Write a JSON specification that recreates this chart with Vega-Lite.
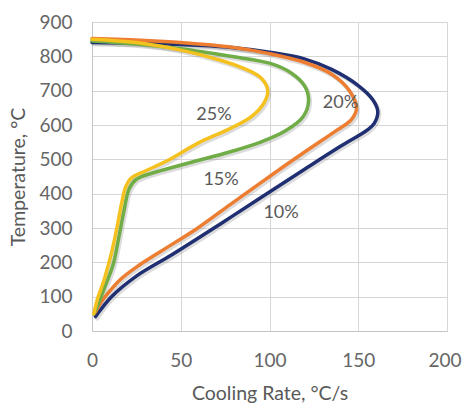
{
  "$schema": "https://vega.github.io/schema/vega-lite/v6.json",
  "width": 355,
  "height": 309,
  "autosize": {"type": "none"},
  "padding": {"left": 92, "top": 22, "right": 15, "bottom": 72},
  "background": "white",
  "config": {
    "view": {"stroke": null},
    "font": "Lato",
    "axis": {
      "labelFont": "Lato", "titleFont": "Lato",
      "labelFontSize": 19, "titleFontSize": 19.5,
      "labelColor": "#666666", "titleColor": "#595959",
      "titleFontWeight": "normal",
      "grid": true, "gridColor": "#d6d6d6", "gridWidth": 1,
      "domainColor": "#c4c4c4",
      "ticks": false, "labelFlush": false, "labelOverlap": false
    }
  },
  "datasets": {
    "curves": [
      {"s": "10%", "i": 0, "x": 0, "t": 840}, {"s": "10%", "i": 1, "x": 30, "t": 838}, {"s": "10%", "i": 2, "x": 60, "t": 832}, {"s": "10%", "i": 3, "x": 80, "t": 825}, {"s": "10%", "i": 4, "x": 100, "t": 812}, {"s": "10%", "i": 5, "x": 120, "t": 792}, {"s": "10%", "i": 6, "x": 135, "t": 762}, {"s": "10%", "i": 7, "x": 150, "t": 715}, {"s": "10%", "i": 8, "x": 158, "t": 675}, {"s": "10%", "i": 9, "x": 161, "t": 640}, {"s": "10%", "i": 10, "x": 159, "t": 605}, {"s": "10%", "i": 11, "x": 155, "t": 585}, {"s": "10%", "i": 12, "x": 140, "t": 538}, {"s": "10%", "i": 13, "x": 120, "t": 472}, {"s": "10%", "i": 14, "x": 95, "t": 388}, {"s": "10%", "i": 15, "x": 78, "t": 331}, {"s": "10%", "i": 16, "x": 67, "t": 294}, {"s": "10%", "i": 17, "x": 45, "t": 222}, {"s": "10%", "i": 18, "x": 25, "t": 160}, {"s": "10%", "i": 19, "x": 11, "t": 100}, {"s": "10%", "i": 20, "x": 4, "t": 56}, {"s": "10%", "i": 21, "x": 2, "t": 42},
      {"s": "20%", "i": 0, "x": 0, "t": 852}, {"s": "20%", "i": 1, "x": 30, "t": 846}, {"s": "20%", "i": 2, "x": 60, "t": 836}, {"s": "20%", "i": 3, "x": 80, "t": 826}, {"s": "20%", "i": 4, "x": 100, "t": 808}, {"s": "20%", "i": 5, "x": 120, "t": 782}, {"s": "20%", "i": 6, "x": 135, "t": 748}, {"s": "20%", "i": 7, "x": 145, "t": 700}, {"s": "20%", "i": 8, "x": 149, "t": 648}, {"s": "20%", "i": 9, "x": 146, "t": 615}, {"s": "20%", "i": 10, "x": 138, "t": 585}, {"s": "20%", "i": 11, "x": 120, "t": 522}, {"s": "20%", "i": 12, "x": 106, "t": 472}, {"s": "20%", "i": 13, "x": 93, "t": 424}, {"s": "20%", "i": 14, "x": 78, "t": 369}, {"s": "20%", "i": 15, "x": 59, "t": 298}, {"s": "20%", "i": 16, "x": 40, "t": 236}, {"s": "20%", "i": 17, "x": 25, "t": 186}, {"s": "20%", "i": 18, "x": 16, "t": 150}, {"s": "20%", "i": 19, "x": 9, "t": 110}, {"s": "20%", "i": 20, "x": 4, "t": 75}, {"s": "20%", "i": 21, "x": 2, "t": 55},
      {"s": "15%", "i": 0, "x": 0, "t": 845}, {"s": "15%", "i": 1, "x": 25, "t": 836}, {"s": "15%", "i": 2, "x": 50, "t": 822}, {"s": "15%", "i": 3, "x": 78, "t": 800}, {"s": "15%", "i": 4, "x": 100, "t": 780}, {"s": "15%", "i": 5, "x": 112, "t": 752}, {"s": "15%", "i": 6, "x": 120, "t": 712}, {"s": "15%", "i": 7, "x": 122, "t": 670}, {"s": "15%", "i": 8, "x": 119, "t": 625}, {"s": "15%", "i": 9, "x": 109, "t": 583}, {"s": "15%", "i": 10, "x": 95, "t": 550}, {"s": "15%", "i": 11, "x": 78, "t": 522}, {"s": "15%", "i": 12, "x": 55, "t": 490}, {"s": "15%", "i": 13, "x": 36, "t": 463}, {"s": "15%", "i": 14, "x": 25, "t": 442}, {"s": "15%", "i": 15, "x": 21, "t": 415}, {"s": "15%", "i": 16, "x": 18, "t": 350}, {"s": "15%", "i": 17, "x": 15, "t": 270}, {"s": "15%", "i": 18, "x": 12, "t": 195}, {"s": "15%", "i": 19, "x": 7, "t": 125}, {"s": "15%", "i": 20, "x": 3, "t": 72}, {"s": "15%", "i": 21, "x": 1, "t": 50},
      {"s": "25%", "i": 0, "x": 0, "t": 850}, {"s": "25%", "i": 1, "x": 25, "t": 840}, {"s": "25%", "i": 2, "x": 50, "t": 818}, {"s": "25%", "i": 3, "x": 70, "t": 792}, {"s": "25%", "i": 4, "x": 84, "t": 768}, {"s": "25%", "i": 5, "x": 95, "t": 738}, {"s": "25%", "i": 6, "x": 99, "t": 700}, {"s": "25%", "i": 7, "x": 97, "t": 665}, {"s": "25%", "i": 8, "x": 90, "t": 625}, {"s": "25%", "i": 9, "x": 78, "t": 590}, {"s": "25%", "i": 10, "x": 60, "t": 548}, {"s": "25%", "i": 11, "x": 42, "t": 495}, {"s": "25%", "i": 12, "x": 30, "t": 466}, {"s": "25%", "i": 13, "x": 22, "t": 445}, {"s": "25%", "i": 14, "x": 19, "t": 420}, {"s": "25%", "i": 15, "x": 17, "t": 380}, {"s": "25%", "i": 16, "x": 14, "t": 300}, {"s": "25%", "i": 17, "x": 11, "t": 228}, {"s": "25%", "i": 18, "x": 7, "t": 152}, {"s": "25%", "i": 19, "x": 3, "t": 92}, {"s": "25%", "i": 20, "x": 1, "t": 50}
    ],
    "labels": [
      {"s": "10%", "x": 106.5, "t": 344},
      {"s": "15%", "x": 72.7, "t": 440},
      {"s": "20%", "x": 140, "t": 664},
      {"s": "25%", "x": 68.7, "t": 629}
    ]
  },
  "encoding": {
    "x": {"field": "x", "type": "quantitative", "scale": {"domain": [0, 200]},
          "axis": {"title": "Cooling Rate, °C/s", "values": [0, 50, 100, 150, 200], "labelPadding": 20, "titlePadding": 14,
                   "labelAlign": {"expr": "datum.value == 200 ? 'right' : 'center'"},
                   "labelOffset": {"expr": "datum.value == 200 ? 14 : 0"}}},
    "y": {"field": "t", "type": "quantitative", "scale": {"domain": [0, 900]},
          "axis": {"title": "Temperature, °C", "values": [0, 100, 200, 300, 400, 500, 600, 700, 800, 900], "labelPadding": 20, "titlePadding": 10}}
  },
  "layer": [
    {
      "data": {"name": "curves"},
      "mark": {"type": "line", "strokeWidth": 4, "interpolate": "catmull-rom", "strokeCap": "round", "strokeJoin": "round", "color": "#8c8c8c", "opacity": 0.3, "xOffset": 1.5, "yOffset": 2},
      "encoding": {
        "detail": {"field": "s"},
        "order": {"field": "i", "type": "quantitative"}
      }
    },
    {
      "data": {"name": "curves"},
      "mark": {"type": "line", "strokeWidth": 3.5, "interpolate": "catmull-rom", "strokeCap": "round", "strokeJoin": "round"},
      "encoding": {
        "detail": {"field": "s"},
        "order": {"field": "i", "type": "quantitative"},
        "color": {"field": "s", "type": "nominal", "legend": null,
                  "scale": {"domain": ["10%", "20%", "15%", "25%"], "range": ["#1f2f72", "#ed7d31", "#70ad47", "#f5c11f"]}}
      }
    },
    {
      "data": {"name": "labels"},
      "mark": {"type": "text", "font": "Lato", "fontSize": 18, "color": "#595959"},
      "encoding": {
        "text": {"field": "s"}
      }
    }
  ]
}
